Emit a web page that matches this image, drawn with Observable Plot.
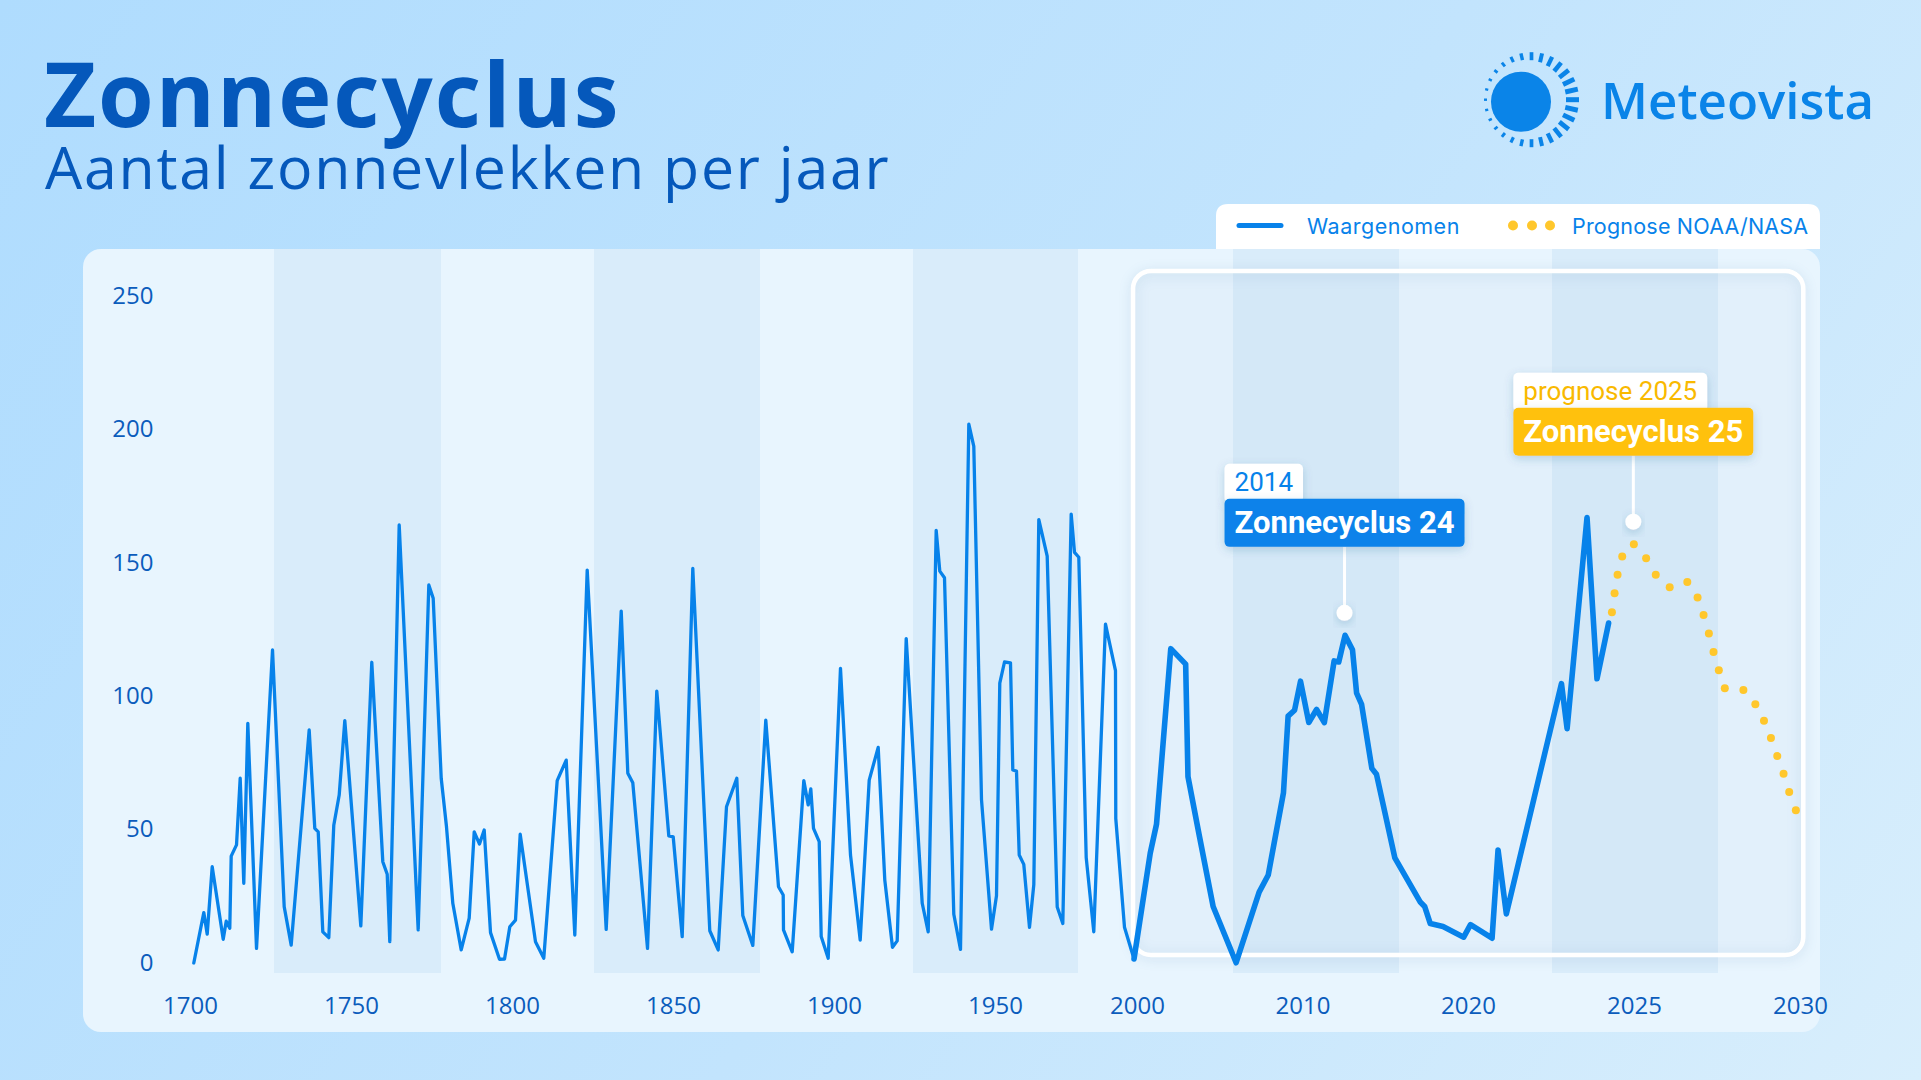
<!DOCTYPE html>
<html><head><meta charset="utf-8">
<script src="https://cdn.jsdelivr.net/npm/d3@7"></script>
<script src="https://cdn.jsdelivr.net/npm/@observablehq/plot@0.6"></script>
<style>
html,body{margin:0;padding:0;}
body{width:1921px;height:1080px;overflow:hidden;position:relative;background:linear-gradient(125deg,#afdcfe 0%,#c2e4fd 55%,#d8eefc 100%);font-family:"Open Sans",sans-serif;}
#title{position:absolute;left:44px;top:52px;font:700 90px/0.9 "Open Sans";color:#0558bb;margin:0;letter-spacing:2px;white-space:nowrap;}
#subtitle{position:absolute;left:45px;top:137px;font:400 59px/1 "Open Sans";color:#0558bb;margin:0;letter-spacing:1.75px;white-space:nowrap;}
#brand{position:absolute;left:1601px;top:74px;font:600 51px/1 "Open Sans";color:#0a84e8;white-space:nowrap;}
#logo{position:absolute;left:1470px;top:45px;}
#panel{position:absolute;left:83px;top:249px;width:1737px;height:783px;background:#e8f5fe;border-radius:18px;}
#chart{position:absolute;left:83px;top:249px;width:1737px;height:783px;}
#legend{position:absolute;left:1216px;top:204px;}
</style></head>
<body>
<h1 id="title">Zonnecyclus</h1>
<h2 id="subtitle">Aantal zonnevlekken per jaar</h2>
<svg id="logo" width="130" height="115"></svg>
<div id="brand">Meteovista</div>
<div id="panel"></div>
<div id="chart"></div>
<svg id="legend" width="604" height="45"></svg>
<script>
// ---- data ----
const histYears = [1701.02,1704.13,1705.19,1706.74,1710.16,1711.09,1712.20,1712.64,1714.29,1715.43,
1716.55,1717.80,1720.50,1725.47,1729.10,1731.27,1736.86,1738.60,1739.66,1741.09,
1742.95,1744.50,1746.18,1747.92,1752.89,1756.30,1759.72,1761.09,1761.89,1764.81,
1770.71,1774.01,1775.37,1777.86,1779.50,1781.46,1784.07,1786.55,1788.11,1789.75,
1791.21,1793.17,1795.96,1797.52,1799.16,1800.93,1802.39,1807.14,1809.72,1813.88,
1816.68,1819.35,1823.20,1829.10,1833.76,1835.81,1837.36,1841.93,1844.81,1848.54,
1849.91,1852.70,1855.99,1861.27,1863.88,1866.46,1869.66,1871.52,1874.63,1878.66,
1882.61,1884.07,1884.16,1886.86,1890.47,1891.83,1892.64,1893.48,1895.25,1895.87,
1898.04,1901.86,1904.97,1907.98,1910.78,1913.57,1915.62,1918.01,1919.47,1922.27,
1927.24,1929.10,1931.58,1932.70,1934.16,1937.05,1939.13,1941.71,1943.26,1945.65,
1948.76,1950.35,1951.51,1953.17,1955.28,1956.09,1957.39,1958.35,1959.96,1961.97,
1963.49,1965.25,1968.20,1971.73,1973.70,1976.65,1977.82,1979.33,1981.94,1984.61,
1988.73,1992.25,1992.35,1995.42,1998.77];
const histValues = [0,18.9,10.8,36.1,8.9,15.7,13,40.1,44.3,69.3,
29.9,89.9,5.5,117.4,21.1,6.7,87.4,50.5,49.2,11.7,
9.5,51.7,63,90.9,13.9,112.8,38,33.3,8,164.3,
12.4,141.8,136.8,69.3,51.1,22.4,4.9,16.8,49.2,44.6,
49.9,11.4,1.4,1.5,13.6,16.1,48.3,8,1.8,68.4,
76.1,10.5,147.4,12.6,132,71.2,67.6,5.5,102,47.7,
47.3,9.9,148,12.1,4.9,58.6,69.3,17.8,6.6,91.1,
28.6,25.5,12.4,4.2,68.4,59.3,65.3,50.5,45.5,9.9,
1.8,110.5,40.5,8.6,68.6,80.9,31.1,5.9,8.3,121.7,
22.4,11.7,162.3,147,144.5,18.3,5.1,202.1,193.8,61.3,
12.7,25.2,105,112.9,112.6,72.4,72,40.5,37,13.4,
29.4,166.3,152.6,21,14.8,168.4,154,152.2,39.5,11.7,
127.1,109.7,54.2,13.4,1.5];

const recentYears = [1998.77,2000.77,2001.15,2002.01,2002.91,2003.05,2003.74,2004.57,2005.96,2007.35,
2007.90,2008.82,2009.10,2009.49,2009.85,2010.35,2010.82,2011.29,2011.88,2012.16,
2012.54,2012.99,2013.24,2013.54,2014.16,2014.44,2015.55,2017.07,2017.35,2017.69,
2018.46,2019.71,2020.06,2020.71,2020.89,2021.14,2022.80,2022.97,2023.57,2023.87,2024.22];
const recentValues = [1.5,41.2,52.1,117.9,112.1,69.9,47.6,21.2,0.1,26.6,
33,63.9,92.6,94.8,105.7,90.2,95.1,90.2,113.3,112.9,
122.9,117.5,101.2,97,73,70.8,39.4,23,21.2,14.8,
13.7,9.7,14.4,9.3,42.4,18.4,104.8,87.9,167.1,106.6,127.5];

const forecastYears = [2024.32,2024.40,2024.49,2024.63,2024.98,2025.35,2025.64,2026.06,2026.59,2026.90,
2027.08,2027.24,2027.38,2027.54,2027.72,2028.28,2028.64,2028.90,2029.11,2029.30,2029.49,2029.66,2029.86];
const forecastValues = [131.6,138.7,145.6,152.5,157.1,151.8,145.6,140.9,142.9,137.1,
130.5,123.6,116.7,109.8,103.1,102.4,97.1,90.9,84.4,77.6,71,64.1,57.3];

const bandStarts = [1726.09,1825.47,1924.53,2005.8,2022.53];
const bandEnds   = [1777.95,1877.02,1979.23,2015.83,2027.53];

const xTicks = [1700,1750,1800,1850,1900,1950,2000,2010,2020,2025,2030];
const yTicks = [0,50,100,150,200,250];
const xBreaks = [1700,1950,2000,2020,2030];

const highlightYears = [1998.6, 2030.1];
const highlightValues = [2.8, 259.4];

const annYears = [2012.54, 2024.98];
const annValues = [122.9, 157.1];
const annTags = ["2014", "prognose 2025"];
const annLabels = ["Zonnecyclus 24", "Zonnecyclus 25"];

const legendLabels = ["Waargenomen", "Prognose NOAA/NASA"];

// ---- tables ----
const hist = histYears.map((y,i)=>({year:y, value:histValues[i]}));
const recent = recentYears.map((y,i)=>({year:y, value:recentValues[i]}));
const forecast = forecastYears.map((y,i)=>({year:y, value:forecastValues[i]}));
const bands = bandStarts.map((s,i)=>({start:s, end:bandEnds[i]}));
const highlight = [{x1:highlightYears[0], x2:highlightYears[1], y1:highlightValues[0], y2:highlightValues[1]}];

const BLUE = "#0782ea", YELLOW = "#ffc72c", AXIS = "#0b5cbc";

const W = 1737, H = 783;
const plot = Plot.plot({
  width: W, height: H,
  marginTop: 0, marginBottom: 59, marginLeft: 107, marginRight: 20,
  style: {background: "none", fontFamily: "'Open Sans'", fontSize: "24px", color: AXIS, overflow: "visible", maxWidth: "none"},
  x: {type: "linear", domain: xBreaks, range: [107, 912, 1054, 1385, 1717]},
  y: {type: "linear", domain: [0, 250], range: [713.5, 47]},
  marks: [
    Plot.rect(bands, {x1: "start", x2: "end", fill: "#d9ecfa"}),
    Plot.rect(highlight, {x1: "x1", x2: "x2", y1: "y1", y2: "y2", rx: 18, fill: "rgba(150,185,215,0.06)", stroke: "white", strokeWidth: 4.5}),
    Plot.line(hist, {x: "year", y: "value", stroke: BLUE, strokeWidth: 3.3, strokeLinejoin: "round", strokeLinecap: "round"}),
    Plot.line(recent, {x: "year", y: "value", stroke: BLUE, strokeWidth: 5.6, strokeLinejoin: "round", strokeLinecap: "round"}),
    Plot.dot(forecast, {x: "year", y: "value", r: 4, fill: YELLOW}),
    Plot.axisX({ticks: xTicks, tickSize: 0, tickPadding: 23, tickFormat: d => String(d), label: null}),
    Plot.axisY({ticks: yTicks, tickSize: 0, tickPadding: 37, tickFormat: d => String(d), label: null})
  ]
});
document.getElementById("chart").appendChild(plot);

// soft shadow on the highlight box
const rectGroups = d3.select(plot).selectAll('g[aria-label="rect"]').nodes();
if (rectGroups[1]) rectGroups[1].style.filter = "drop-shadow(0px 2px 6px rgba(40,90,140,0.16))";

// ---- annotations anchored through the plot's scales ----
const xs = plot.scale("x"), ys = plot.scale("y");
const svg = d3.select(plot);
const defs = svg.append("defs");
defs.append("filter").attr("id","shadow").attr("x","-20%").attr("y","-30%").attr("width","140%").attr("height","170%")
  .append("feDropShadow").attr("dx",0).attr("dy",3).attr("stdDeviation",5).attr("flood-color","#2a5a8a").attr("flood-opacity",0.22);

const annColors = [BLUE, "#ffc107"];
const tagColors = [BLUE, "#f9b900"];
annYears.forEach((yr, i) => {
  const cx = xs.apply(yr), cy = ys.apply(annValues[i]);
  const dotY = cy - 22;
  const boxBottom = dotY - 66;
  const boxH = 48, tagH = 35;
  const g = svg.append("g").attr("text-anchor","start");
  g.append("line").attr("x1",cx).attr("x2",cx).attr("y1",dotY).attr("y2",boxBottom)
    .attr("stroke","white").attr("stroke-width",3);
  g.append("circle").attr("cx",cx).attr("cy",dotY).attr("r",8).attr("fill","white")
    .attr("filter","url(#shadow)");
  const mainText = g.append("text").text(annLabels[i]).attr("text-anchor","start")
    .attr("font-family","Roboto").attr("font-weight",700).attr("font-size",31).attr("fill","white");
  const tw = mainText.node().getComputedTextLength();
  const bw = tw + 20;
  const bx = cx - bw/2, by = boxBottom - boxH;
  const tagText = g.append("text").text(annTags[i]).attr("text-anchor","start")
    .attr("font-family","Roboto").attr("font-weight",400).attr("font-size",26).attr("fill",tagColors[i]);
  const tgw = tagText.node().getComputedTextLength() + 20;
  g.insert("rect", "text").attr("x",bx).attr("y",by - tagH).attr("width",tgw).attr("height",tagH+4)
    .attr("rx",5).attr("fill","white").attr("filter","url(#shadow)");
  g.insert("rect", "text").attr("x",bx).attr("y",by).attr("width",bw).attr("height",boxH)
    .attr("rx",5).attr("fill",annColors[i]).attr("filter","url(#shadow)");
  mainText.attr("x", bx + 10).attr("y", by + 34);
  tagText.attr("x", bx + 10).attr("y", by - tagH + 27);
});

// ---- legend ----
const lg = d3.select("#legend");
lg.append("path").attr("d","M0,45 V12 Q0,0 12,0 H592 Q604,0 604,12 V45 Z").attr("fill","white");
lg.append("line").attr("x1",23).attr("x2",65).attr("y1",21.5).attr("y2",21.5)
  .attr("stroke",BLUE).attr("stroke-width",5).attr("stroke-linecap","round");
lg.append("text").attr("x",91).attr("y",30).text(legendLabels[0])
  .attr("font-family","Inter").attr("font-size",21.5).attr("letter-spacing",0.5).attr("fill",BLUE);
[297,316,334].forEach(x => lg.append("circle").attr("cx",x).attr("cy",21.5).attr("r",5).attr("fill",YELLOW));
lg.append("text").attr("x",356).attr("y",30).text(legendLabels[1])
  .attr("font-family","Inter").attr("font-size",21.5).attr("letter-spacing",0.2).attr("fill",BLUE);

// ---- logo ----
const logo = d3.select("#logo");
logo.append("circle").attr("cx",51).attr("cy",56.7).attr("r",30).attr("fill","#0a84e8");
const N = 28, rcx = 61.5, rcy = 54.7, R = 47.5;
for (let k = 0; k < N; k++) {
  const a = k * 2 * Math.PI / N;
  const f = (1 + Math.cos(a)) / 2;
  const L = 3 + 10 * f, w = 2.4 + 2.6 * f;
  const deg = a * 180 / Math.PI;
  logo.append("rect")
    .attr("x", R - L).attr("y", -w/2).attr("width", L).attr("height", w)
    .attr("transform", `translate(${rcx},${rcy}) rotate(${deg})`)
    .attr("fill", "#0a84e8");
}
</script>
</body></html>
